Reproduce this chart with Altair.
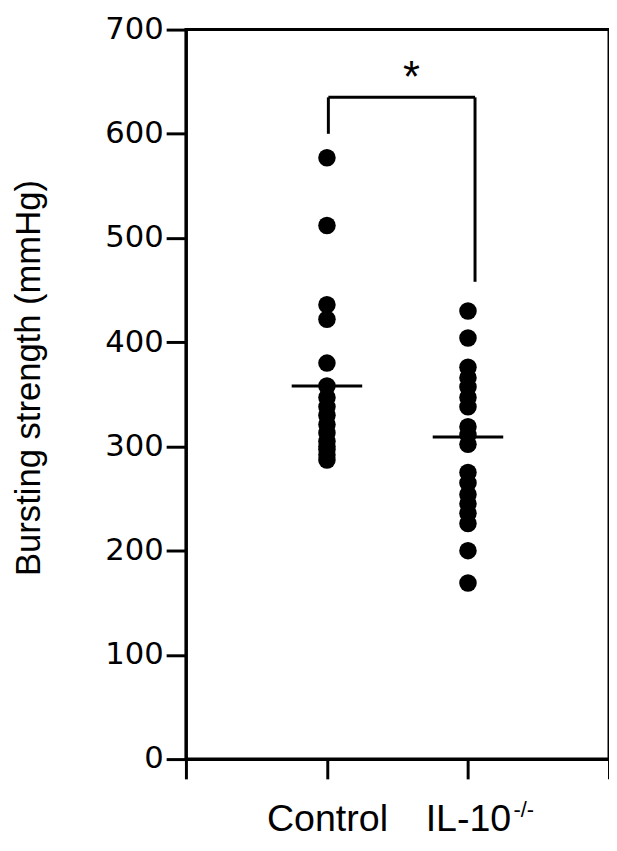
import altair as alt
import pandas as pd

# ---- data ----
group_labels = ["Control", "IL-10"]
group_pos = [1, 2]
control_values = [577, 512, 436, 422, 380, 358, 347, 338, 330, 321, 313, 305, 300, 297, 292, 287]
il10_values = [430, 404, 376, 366, 357, 347, 338, 319, 311, 302, 275, 265, 254, 245, 236, 226, 200, 169]
mean_values = [358, 309]
mean_half_width = 0.25

bracket_x = [1.01, 1.01, 2.05]
bracket_x2 = [1.01, 2.05, 2.05]
bracket_y = [600, 635, 458]
bracket_y2 = [635, 635, 635]
star_x = [1.6]
star_y = [640]
star_text = ["*"]

y_ticks = [0, 100, 200, 300, 400, 500, 600, 700]
x_ticks = [0, 1, 2, 3]

# ---- tables ----
points = pd.DataFrame({
    "pos": [group_pos[0]] * len(control_values) + [group_pos[1]] * len(il10_values),
    "value": control_values + il10_values,
})
means = pd.DataFrame({
    "x": [p - mean_half_width for p in group_pos],
    "x2": [p + mean_half_width for p in group_pos],
    "y": mean_values,
})
bracket = pd.DataFrame({"x": bracket_x, "x2": bracket_x2, "y": bracket_y, "y2": bracket_y2})
star = pd.DataFrame({"x": star_x, "y": star_y, "t": star_text})
sup = pd.DataFrame({"x": [group_pos[1]], "t": ["-/-"]})

xscale = alt.Scale(domain=[0, 3], nice=False, zero=False)
yscale = alt.Scale(domain=[0, 700], nice=False)

x_axis = alt.Axis(
    values=x_ticks,
    labelExpr="datum.value == 1 ? 'Control' : (datum.value == 2 ? 'IL-10' : '')",
    title=None, grid=False, tickSize=20, labelPadding=52, labelBaseline="alphabetic",
    labelFont="Liberation Sans", labelFontSize=38,
)
y_axis = alt.Axis(
    values=y_ticks, title="Bursting strength (mmHg)", grid=False, tickSize=20,
    labelPadding=3, labelFont="DejaVu Sans", labelFontSize=31,
    titleFont="Liberation Sans", titleFontSize=35, titleFontWeight="normal",
    titleX=-148, titleY=352, titleBaseline="alphabetic", titleAngle=-90,
)

pts = alt.Chart(points).mark_circle(size=314, color="black", opacity=1).encode(
    x=alt.X("pos:Q", scale=xscale, axis=x_axis),
    y=alt.Y("value:Q", scale=yscale, axis=y_axis),
)
mean_rules = alt.Chart(means).mark_rule(color="black", strokeWidth=3).encode(
    x="x:Q", x2="x2:Q", y="y:Q"
)
bracket_rules = alt.Chart(bracket).mark_rule(color="black", strokeWidth=3).encode(
    x="x:Q", x2="x2:Q", y="y:Q", y2="y2:Q"
)
star_mark = alt.Chart(star).mark_text(
    font="Liberation Sans", fontSize=44, baseline="alphabetic", align="center", color="black"
).encode(x="x:Q", y="y:Q", text="t:N")
sup_mark = alt.Chart(sup).mark_text(
    font="Liberation Sans", fontSize=22, baseline="middle", align="left", color="black", dx=46
).encode(x="x:Q", y=alt.value(790), text="t:N")

chart = alt.layer(pts, mean_rules, bracket_rules, star_mark, sup_mark).properties(
    width=428, height=738,
    autosize=alt.AutoSizeParams(type="none"),
    padding={"left": 180, "top": 17, "right": 0, "bottom": 76},
).configure_view(
    stroke="black", strokeWidth=3
).configure_axis(
    domainColor="black", domainWidth=3, tickColor="black", tickWidth=3,
    labelColor="black", titleColor="black",
)

chart.save("out.html", embed_options={"renderer": "svg", "actions": False})
